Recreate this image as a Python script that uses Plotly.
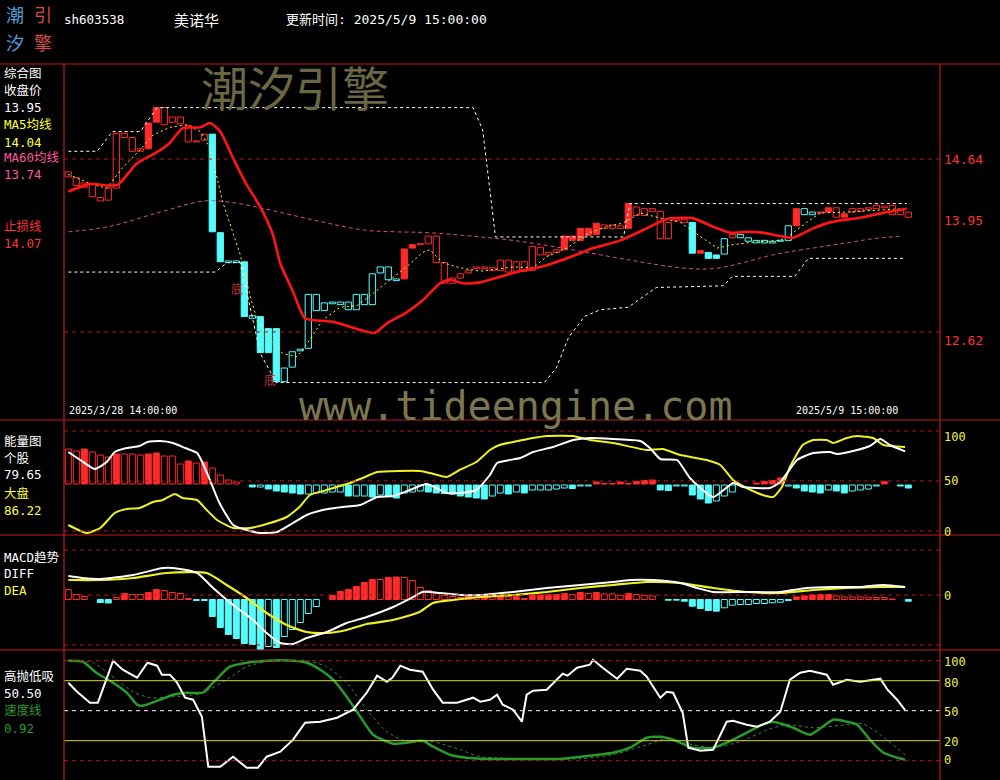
import plotly.graph_objects as go

W, H = 1000, 780
MONO = "DejaVu Sans Mono, Noto Sans CJK SC"
CJK = "Noto Sans CJK SC"

# ---------------- data ----------------
bar_index = list(range(106))
opens = [14.43,14.33,14.31,14.20,14.15,14.16,14.30,14.89,14.73,14.73,
 14.76,15.07,15.04,15.07,15.05,14.84,14.84,14.86,14.93,13.78,
 13.45,13.45,13.44,12.81,12.80,12.66,12.66,12.20,12.39,12.42,
 13.06,13.06,12.96,12.97,12.97,12.97,13.06,13.06,13.30,13.38,
 13.38,13.24,13.24,13.60,13.64,13.65,13.43,13.19,13.19,13.25,
 13.31,13.36,13.36,13.34,13.34,13.32,13.33,13.33,13.34,13.52,
 13.52,13.55,13.58,13.69,13.69,13.75,13.76,13.83,13.83,13.83,
 13.83,13.98,13.98,14.03,13.71,13.71,13.92,13.90,13.90,13.54,
 13.55,13.52,13.71,13.72,13.76,13.72,13.69,13.69,13.68,13.69,
 13.86,13.86,14.06,14.02,14.01,14.02,13.96,13.96,14.02,14.03,
 14.05,14.06,14.07,13.99,13.99,13.96]
closes = [14.49,14.42,14.36,14.35,14.19,14.30,14.94,14.94,14.89,14.76,
 15.06,15.24,15.24,15.13,15.13,15.03,14.85,14.93,13.79,13.44,
 13.43,13.43,12.80,12.78,12.38,12.38,12.04,12.04,12.21,12.40,
 12.43,12.87,12.87,12.95,12.94,12.88,12.88,12.94,12.94,13.31,
 13.23,13.22,13.59,13.64,13.65,13.74,13.74,13.43,13.25,13.30,
 13.34,13.38,13.38,13.37,13.46,13.46,13.44,13.44,13.62,13.61,
 13.55,13.58,13.74,13.74,13.83,13.83,13.89,13.87,13.87,13.86,
 14.12,14.08,14.06,14.06,14.03,13.90,13.94,13.93,13.54,13.57,
 13.48,13.48,13.53,13.76,13.72,13.68,13.66,13.66,13.66,13.68,
 13.69,14.06,13.99,13.99,14.02,14.07,14.07,14.00,14.06,14.06,
 14.07,14.10,14.09,14.10,14.05,14.02]
surge = [0,0,0,0,0,0,0,0,0,0, 1,1,0,0,0,0,0,0,1,1,
 0,0,1,0,1,1,1,0,0,0, 0,0,0,0,0,0,0,0,0,0,
 0,0,1,1,0,0,0,0,0,0, 0,0,0,0,0,0,0,0,0,0,
 0,0,1,1,1,1,1,0,0,0, 1,0,0,0,0,0,0,0,1,1,
 1,1,0,0,0,0,0,0,0,0, 0,1,0,0,1,1,0,1,0,0,
 0,0,0,0,0,0]

stop_x = [0,2.7,4.8,6.2,8.6,11.1,12.7,14.3,16.5,17.7,19.0,20.6,22.3,24.0,25.6,26.5,28.1,29.6,33.1,35.6,38.3,39.8,42.3,44.3,46.5,47.7,49.3,51.5,55.6,59.8,64.0,65.6,69.0,72.3,74.8,78.0,80.6,82.7,84.8,86.8,89.0,90.6,93.1,95.2,99.3,102.3,104.8]
stop_y = [14.26,14.35,14.33,14.34,14.59,14.72,14.83,15.00,15.01,15.06,14.96,14.65,14.34,14.08,13.75,13.42,13.09,12.78,12.74,12.67,12.61,12.72,12.85,12.99,13.19,13.23,13.19,13.20,13.31,13.40,13.54,13.60,13.69,13.83,13.94,13.95,13.85,13.78,13.79,13.78,13.74,13.72,13.83,13.90,13.96,14.02,14.06]

ma5_x = [0,3.1,4.8,6.8,8.6,10.6,12.7,14.8,16.5,17.7,19.3,21.5,22.7,23.6,25.2,26.8,28.6,30.2,31.8,34.0,36.1,38.1,40.2,42.3,44.3,45.2,46.8,49.0,51.5,55.6,58.1,59.8,62.3,65.2,67.3,69.3,71.5,74.0,76.5,79.0,81.1,83.1,85.6,89.0,90.2,92.3,94.0,97.3,100.6,104.2]
ma5_y = [14.46,14.34,14.30,14.54,14.71,14.92,15.01,15.04,14.96,14.77,14.14,13.52,13.05,12.76,12.53,12.37,12.33,12.53,12.76,12.91,12.93,13.07,13.23,13.38,13.55,13.58,13.43,13.37,13.33,13.38,13.37,13.50,13.60,13.78,13.85,13.89,14.01,13.95,13.90,13.74,13.60,13.64,13.67,13.69,13.75,13.90,14.01,14.02,14.04,14.06]

ma60_x = [0,5,11.5,17,20.6,24,31.5,37,41,45,51.5,55.6,61.8,70.2,76.5,80.6,84.8,88,93.1,97.3,100.6,104.2]
ma60_y = [13.79,13.85,14.02,14.15,14.13,14.07,13.91,13.81,13.79,13.78,13.73,13.69,13.60,13.46,13.37,13.36,13.44,13.52,13.60,13.66,13.71,13.74]

upper_x = [0,3.6,5.5,9,11.1,50.6,51.8,52.7,53.4,69.4,70.2,104.8]
upper_y = [14.73,14.73,14.96,14.96,15.24,15.24,14.98,14.30,13.73,13.73,14.12,14.12]
lower_x = [0,18.4,19.8,21.5,24,26,59.5,61,62.5,64.5,66.5,70,73.5,81.9,83,90.8,92.5,104.4]
lower_y = [13.32,13.32,13.43,13.43,12.37,12.03,12.03,12.20,12.55,12.80,12.88,12.91,13.14,13.16,13.27,13.27,13.48,13.48]

bottom_sig_x = [21.1, 25.2]
bottom_sig_y = [13.13, 12.07]

energy_hist = [35,33,35,32,29,27,30,30,30,29,
 30,31,28,28,20,23,21,22,16,9,
 4,2,0,-2,-2,-4,-6,-7,-8,-9,
 -9,-8,-8,-7,-7,-11,-11,-11,-12,-10,
 -11,-13,-8,-7,-6,-7,-8,-8.5,-9,-11,
 -12,-13,-14,-11,-8,-9,-7,-8,-5,-5,
 -5,-4,-3,-3.5,-1,-1,2,0.5,0.5,2,
 0.5,2.5,3.5,4,-5,-5.5,-1,-1,-10,-14,
 -18,-16,-11,-7,0,0,1,2.5,3.5,6,
 -1,-3,-6,-7,-8,-5,-6,-8,-6,-5,
 -4,-1,2.3,0,-1,-3]
energy_base = 47

stock_x = [0,1.5,3.3,4.8,5.8,7.3,8.9,9.9,11.5,13.1,14.6,16.1,16.8,17.7,18.9,20.6,22.3,24,26.1,28.1,29.8,31.8,34.3,36.5,38.6,40.6,42.7,44.8,47.3,48.9,51,52.7,53.6,56.5,58.1,60.6,63.1,65.2,68.1,71.5,72.7,74,76.1,77.7,80.6,83.1,84.3,87.7,89,91.1,93.1,95.2,96.1,98.6,100.2,101.5,102.7,104.6]
stock_y = [79,71,62,69,79,83,85,89,90,88,83,78,68,51,28,6,1,-2,-1,8,16,21,24,26,34,35,41,47,38,38,41,56,68,73,79,84,91,93,92,90,83,72,71,53,34,48,44,43,49,71,78,79,77,81,85,92,86,79.65]
market_x = [0,2.3,4,5.8,7.3,8.9,10.6,11.8,13.3,14.3,16.1,17.3,18.6,20.6,22.7,24.8,27.3,28.9,30.2,32.3,35.2,36.8,38.6,44,45.2,47.3,48.9,51,52.7,53.9,55.6,58.1,59.8,63.1,65.2,68.1,72.3,74.3,76.5,79.8,81.5,83.1,84.8,86.8,88.1,89.2,90.2,91.8,93.1,94.8,95.6,97.3,98.6,100.6,101.9,104.6]
market_y = [6,-2,3,18,22,23,29,31,37,33,31,21,11,3,3,7,14,24,36,41,48,53,59,60,58,54,61,69,81,86,89,93,95,95,91,88,81,82,76,71,66,51,43,36,34,44,64,86,91,91,88,93,95,93,86,84]

macd_hist = [10,5,3,0,-3,-3.5,2,6,5,5,
 7,10,9,7,6,1,-1,-1,-17,-28,
 -35,-39,-44,-45,-50,-47,-48,-37,-30,-23,
 -14,-7,0,4,8,10,13,17,20,20,
 22,22.5,22,19,12,9,6,4,3,2,
 3,2,3.6,2.6,3.3,2.6,2.8,1,4.3,4.5,
 4.7,5,6,5,7,6,7,5.6,5.6,4.3,
 6,5,4.3,3.6,0,-0.7,-0.7,-1.7,-6.7,-9,
 -11,-11.7,-8.3,-5.7,-5,-5,-4,-4,-3.3,-2.7,
 -1,2.6,3.6,4.6,4.8,5,3.6,2.6,2.6,2.6,
 2.3,2,2,0.5,0,-1.7]
macd_base = -0.045
diff_x = [0,1.8,4,8.1,11.8,13.1,16.1,18.1,20.6,23.1,24.8,26.5,28.1,29.8,32.3,34.8,37.3,40.6,43.1,44.3,46.5,49,51.5,55.6,59.8,64,68.1,70.2,73.1,76.5,78.6,80.6,84.8,89,92.3,95.6,99,101.9,104.6]
diff_y = [0.19,0.17,0.16,0.20,0.27,0.27,0.22,0.07,-0.10,-0.25,-0.38,-0.48,-0.49,-0.43,-0.37,-0.28,-0.22,-0.12,-0.02,0.03,0.02,0.00,0.00,0.03,0.07,0.10,0.13,0.15,0.15,0.12,0.07,0.03,0.03,0.03,0.07,0.08,0.08,0.10,0.08]
dea_x = [0,4,8.1,12.3,17.3,19.8,22.3,24.8,27.3,29.8,32.3,34.8,37.3,40.6,43.9,45.6,48.1,51.5,55.6,59.8,64,68.1,72.3,76.5,80.6,84.8,89,93.1,97.3,101.5,104.6]
dea_y = [0.15,0.15,0.17,0.22,0.22,0.10,-0.03,-0.18,-0.30,-0.37,-0.38,-0.35,-0.29,-0.25,-0.17,-0.08,-0.05,-0.02,0.00,0.03,0.07,0.10,0.13,0.12,0.07,0.03,0.02,0.05,0.07,0.08,0.08]

hl_x = [0,1.1,2.7,3.7,5.6,6.8,8.6,9.9,11.1,11.7,12.7,13.6,14.6,15.6,16.7,17.5,19,20.6,22.3,23.7,24.8,26.5,28.1,29.6,31.5,33.6,35.6,37.3,38.6,39.8,40.5,41.5,42.7,44.3,45.6,46.8,48.6,49.8,50.6,51.5,52.7,53.6,54.3,55.6,56.7,57.3,58.1,59.8,61.8,62.4,63.6,65.2,65.6,66.8,68.6,69.8,71.5,72.3,74,74.8,75.6,76.8,77.5,79,80.6,82.3,83.1,84.8,86.1,87.7,89,90.2,91.5,92.7,94.8,95.6,97.3,99,101.5,102.4,103.6,104.6]
hl_y = [78,69,58,58,100,91,83,98,95,86,86,78,63,61,44,-6,-6,4,-7,-7,4,9,21,38,39,43,51,68,85,79,83,95,91,89,71,58,58,61,63,59,61,66,56,51,39,66,70,71,87,85,93,96,101,93,82,92,90,84,63,69,68,48,13,10,11,39,40,36,34,39,49,81,88,90,86,76,81,79,82,71,61,50.5]
speed_x = [0,1.8,3.5,5.6,7.3,8.6,9.3,11.5,13.1,14.8,16.8,18.1,20.2,22.3,24.8,28.1,29.8,31.5,33.1,34.8,36.5,38.1,40.6,42.3,44.3,45.6,47.7,49.8,51.5,61.8,64,68.1,70.2,72.3,74,75.6,78.1,80.6,83.1,86.8,88.1,90.6,92.7,95.6,97.3,98.6,100.2,101.9,104.6]
speed_y = [100,99,88,78,68,56,55,61,66,68,68,78,94,98,100,100,98,91,81,64,44,26,17,18,20,14,6,3,2,2,4,8,13,23,24,21,13,13,21,36,39,33,26,41,39,36,21,8,0.92]
sig_x = [0,3.1,5.2,8.1,10.2,13.1,16.5,19.8,22.3,24.8,29.8,32.3,34.8,37.3,39.8,42.3,45.6,49,51.5,64,68.1,72.3,74.8,78.1,80.6,84,87.4,89.8,93.1,97.3,99.3,101.5,104.6]
sig_y = [100,98,86,69,63,64,67,81,94,99,100,94,78,51,29,19,19,11,4,2,6,16,22,16,13,19,31,36,33,36,37,26,6]

main_levels = [14.64, 12.62]
main_level_labels = ["14.64", "13.95", "12.62"]

# ---------------- colours ----------------
RED = "#ff2a2a"
CYAN = "#54fcfc"
FRAME = "#c41a1a"
GRID = "#b01818"
YEL = "#ffff33"
PINK = "#d2508c"
GREEN = "#2a9a2a"
BG = "black"

fig = go.Figure()

# candles
body_base, body_h, fill_c, line_c = [], [], [], []
for o, c, s in zip(opens, closes, surge):
    col = RED if c >= o else CYAN
    lo, hi = min(o, c), max(o, c)
    body_base.append(lo)
    body_h.append(max(hi - lo, 0.012))
    line_c.append(col)
    fill_c.append(col if s else BG)
fig.add_trace(go.Bar(x=bar_index, y=body_h, base=body_base, width=0.78,
                     marker=dict(color=fill_c, line=dict(color=line_c, width=1)),
                     xaxis="x", yaxis="y"))

fig.add_trace(go.Scatter(x=ma60_x, y=ma60_y, mode="lines", line=dict(color=PINK, width=1, dash="4px,3px", shape="spline"), yaxis="y"))
fig.add_trace(go.Scatter(x=upper_x, y=upper_y, mode="lines", line=dict(color="white", width=1, dash="3px,3px"), yaxis="y"))
fig.add_trace(go.Scatter(x=lower_x, y=lower_y, mode="lines", line=dict(color="white", width=1, dash="3px,3px"), yaxis="y"))
fig.add_trace(go.Scatter(x=ma5_x, y=ma5_y, mode="lines", line=dict(color=YEL, width=1, dash="2px,3px"), yaxis="y"))
fig.add_trace(go.Scatter(x=stop_x, y=stop_y, mode="lines", line=dict(color="#ff1515", width=2.6, shape="spline", smoothing=0.6), yaxis="y"))

# energy histogram
def hist_style(vals):
    fills, lines = [], []
    prev = 0
    for k, v in enumerate(vals):
        col = RED if v > 0 else CYAN
        solid = k > 0 and abs(v) > abs(prev)
        lines.append(col)
        fills.append(col if solid else BG)
        prev = v
    return fills, lines

ef, el = hist_style(energy_hist)
e_y = [v if v != 0 else None for v in energy_hist]
e_base = [energy_base if v > 0 else energy_base - 1 for v in energy_hist]
fig.add_trace(go.Bar(x=bar_index, y=e_y, base=e_base, width=0.75,
                     marker=dict(color=ef, line=dict(color=el, width=1)), yaxis="y2"))
fig.add_trace(go.Scatter(x=market_x, y=market_y, mode="lines", line=dict(color="#f0f020", width=2, shape="spline", smoothing=0.5), yaxis="y2"))
fig.add_trace(go.Scatter(x=stock_x, y=stock_y, mode="lines", line=dict(color="white", width=2, shape="spline", smoothing=0.5), yaxis="y2"))

# MACD
mf, ml = hist_style(macd_hist)
m_y = [v / 100 if v != 0 else None for v in macd_hist]
fig.add_trace(go.Bar(x=bar_index, y=m_y, base=[macd_base] * len(macd_hist), width=0.75,
                     marker=dict(color=mf, line=dict(color=ml, width=1)), yaxis="y3"))
fig.add_trace(go.Scatter(x=dea_x, y=dea_y, mode="lines", line=dict(color="#f0f020", width=2.2, shape="spline", smoothing=0.6), yaxis="y3"))
fig.add_trace(go.Scatter(x=diff_x, y=diff_y, mode="lines", line=dict(color="white", width=2, shape="spline", smoothing=0.6), yaxis="y3"))

# 高抛低吸
fig.add_trace(go.Scatter(x=sig_x, y=sig_y, mode="lines", line=dict(color="#3b8a3b", width=1, dash="3px,3px", shape="spline", smoothing=0.6), yaxis="y4"))
fig.add_trace(go.Scatter(x=speed_x, y=speed_y, mode="lines", line=dict(color=GREEN, width=2.5, shape="spline", smoothing=0.6), yaxis="y4"))
fig.add_trace(go.Scatter(x=hl_x, y=hl_y, mode="lines", line=dict(color="white", width=2), yaxis="y4"))

# ---------------- layout ----------------
def py2paper(py):
    return 1 - py / H

X0, X1 = 64, 940
xr = [-0.5375, 108.9625]
fig.update_layout(
    width=W, height=H, margin=dict(l=0, r=0, t=0, b=0),
    paper_bgcolor=BG, plot_bgcolor=BG, showlegend=False, barmode="overlay",
    xaxis=dict(domain=[X0 / W, X1 / W], range=xr, visible=False, anchor="y"),
    yaxis=dict(domain=[py2paper(420), py2paper(64)], range=[11.593, 15.749], visible=False, anchor="x"),
    yaxis2=dict(domain=[py2paper(535), py2paper(420)], range=[-4, 111], visible=False, anchor="x"),
    yaxis3=dict(domain=[py2paper(650), py2paper(535)], range=[-0.55, 0.60], visible=False, anchor="x"),
    yaxis4=dict(domain=[0, py2paper(650)], range=[-19.3, 110.7], visible=False, anchor="x"),
)

shapes = []
def hline(yref, y, color, dash=None, width=1):
    d = dict(type="line", xref="paper", x0=X0 / W, x1=X1 / W, yref=yref, y0=y, y1=y,
             line=dict(color=color, width=width))
    if dash:
        d["line"]["dash"] = dash
    shapes.append(d)

for lv in main_levels:
    hline("y", lv, GRID, "4px,4px")
for lv in [100, 50, 0]:
    hline("y2", lv, GRID, "4px,4px")
for lv in [0.45, 0.0, -0.50]:
    hline("y3", lv, GRID, "4px,4px")
hline("y4", 100, GRID, "4px,4px")
hline("y4", 0, GRID, "4px,4px")
hline("y4", 80, "#d8d830")
hline("y4", 20, "#d8d830")
hline("y4", 50, "white", "4px,4px")

# frame
for py in [64, 420, 535, 650]:
    shapes.append(dict(type="line", xref="paper", yref="paper", x0=0, x1=1, y0=py2paper(py), y1=py2paper(py),
                       line=dict(color=FRAME, width=1.2)))
for px in [X0, X1]:
    shapes.append(dict(type="line", xref="paper", yref="paper", x0=px / W, x1=px / W, y0=0, y1=py2paper(64),
                       line=dict(color=FRAME, width=1.2)))
fig.update_layout(shapes=shapes)

anns = []
def ann(text, x, y, color, size=12, family=MONO, xanchor="left"):
    anns.append(dict(text=text, x=x / W, y=py2paper(y), xref="paper", yref="paper",
                     xanchor=xanchor, yanchor="middle", showarrow=False,
                     font=dict(color=color, size=size, family=family)))

# header logo + titles
ann("潮", 15, 14, "#4f9fd8", 18, CJK, "center")
ann("汐", 15, 42, "#4f9fd8", 18, CJK, "center")
ann("引", 43, 14, "#d84848", 18, CJK, "center")
ann("擎", 43, 42, "#d84848", 18, CJK, "center")
ann("sh603538", 62, 19, "white", 12.5)
ann("美诺华", 172, 19, "white", 15, CJK)
ann("更新时间: 2025/5/9 15:00:00", 284, 19, "white", 13)

# watermarks
ann("潮汐引擎", 295, 85, "#6a6744", 47, CJK, "center")
ann("www.tideengine.com", 515, 406, "#7a7650", 40, "DejaVu Sans Mono", "center")

# left labels
ann("综合图", 2, 73, "white", 12.5)
ann("收盘价", 2, 90, "white", 12.5)
ann("13.95", 2, 108, "white", 12.5)
ann("MA5均线", 2, 125, YEL, 12.5)
ann("14.04", 2, 142, YEL, 12.5)
ann("MA60均线", 2, 158, "#ff5aa0", 12.5)
ann("13.74", 2, 175, "#ff5aa0", 12.5)
ann("止损线", 2, 226, "#ff3030", 12.5)
ann("14.07", 2, 243, "#ff3030", 12.5)

ann("能量图", 2, 441, "white", 12.5)
ann("个股", 2, 458, "white", 12.5)
ann("79.65", 2, 475, "white", 12.5)
ann("大盘", 2, 493, YEL, 12.5)
ann("86.22", 2, 510, YEL, 12.5)

ann("MACD趋势", 2, 557, "white", 12.5)
ann("DIFF", 2, 573, "white", 12.5)
ann("DEA", 2, 590, YEL, 12.5)

ann("高抛低吸", 2, 676, "white", 12.5)
ann("50.50", 2, 693, "white", 12.5)
ann("速度线", 2, 710, GREEN, 12.5)
ann("0.92", 2, 728, GREEN, 12.5)

# date labels
ann("2025/3/28 14:00:00", 67, 410, "white", 10)
ann("2025/5/9 15:00:00", 794, 410, "white", 10)

# right labels
for txt, py in zip(main_level_labels, [160, 220, 340]):
    ann(txt, 942, py, "#ff3030", 13)
for txt, py in [("100", 437), ("50", 481), ("0", 532), ("0", 596),
                ("100", 662), ("80", 683), ("50", 712), ("20", 742), ("0", 760)]:
    ann(txt, 942, py, "#f0f040", 12)

# bottom signals
for bx, by in zip(bottom_sig_x, bottom_sig_y):
    anns.append(dict(text="底", x=bx, y=by, xref="x", yref="y", showarrow=False,
                     font=dict(color="#c83030", size=12, family=CJK)))

fig.update_layout(annotations=anns)
fig.write_html("out.html", config={"displayModeBar": False},
               post_script="document.body.style.margin='0';document.body.style.background='black';")
